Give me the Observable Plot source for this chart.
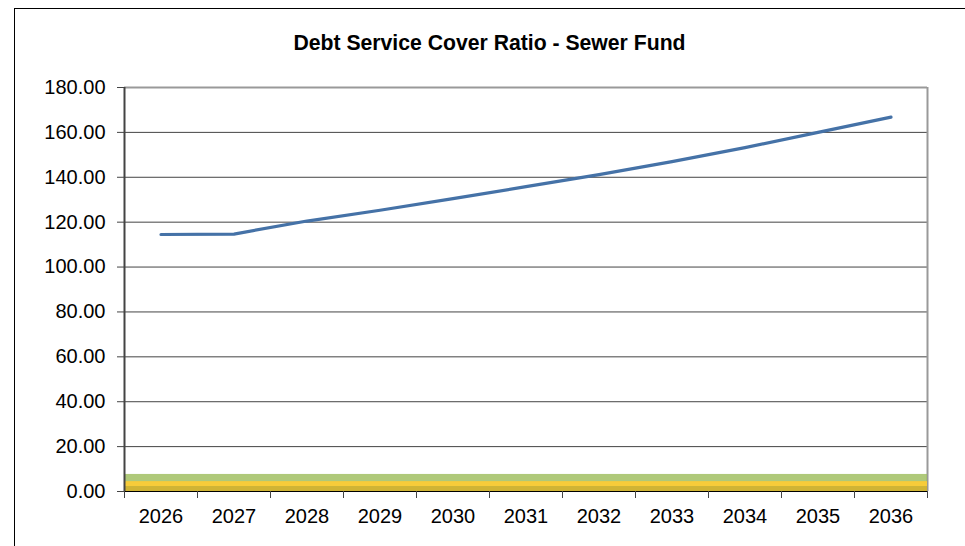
<!DOCTYPE html>
<html>
<head>
<meta charset="utf-8">
<script src="https://cdn.jsdelivr.net/npm/d3@7"></script>
<script src="https://cdn.jsdelivr.net/npm/@observablehq/plot@0.6"></script>
<style>
  html, body { margin: 0; padding: 0; background: #fff; }
  #wrap { position: relative; width: 965px; height: 546px; overflow: hidden; font-family: "Liberation Sans", Arial, sans-serif; }
  #frame { position: absolute; left: 14px; top: 8px; width: 1000px; height: 600px; border: 1px solid #000; box-sizing: border-box; }
  #title { position: absolute; left: 0; width: 979px; top: 31px; text-align: center; font-weight: bold; font-size: 21.2px; line-height: 24px; color: #000; }
  #chart { position: absolute; left: 0; top: 0; }
</style>
</head>
<body>
<div id="wrap">
  <div id="frame"></div>
  <div id="title">Debt Service Cover Ratio - Sewer Fund</div>
  <div id="chart"></div>
</div>
<script>
const years = [2026, 2027, 2028, 2029, 2030, 2031, 2032, 2033, 2034, 2035, 2036];
const dscr = [114.5, 114.7, 120.5, 125.3, 130.5, 135.8, 141.2, 147.0, 153.2, 160.0, 166.8];
const yTicks = [0, 20, 40, 60, 80, 100, 120, 140, 160, 180];
const bands = [
  {name: "green", lo: 0, hi: 7.6, fill: "#9bbb59", opacity: 0.8},
  {name: "yellow", lo: 2.2, hi: 4.4, fill: "#ffcc33", opacity: 0.9},
  {name: "olive", lo: 0, hi: 2.2, fill: "#d4b12c", opacity: 0.9}
];

const data = years.map((y, i) => ({year: y, value: dscr[i]}));
const boundaries = years.map(y => y - 0.5).concat([years[years.length - 1] + 0.5]);
const xDomain = [years[0] - 0.5, years[years.length - 1] + 0.5];

const chart = Plot.plot({
  width: 965,
  height: 546,
  marginLeft: 124,
  marginTop: 87,
  marginRight: 38,
  marginBottom: 55,
  style: {fontFamily: "Liberation Sans, Arial, sans-serif", fontSize: "20px", color: "#000", background: "transparent"},
  x: {type: "linear", domain: xDomain},
  y: {domain: [0, 180]},
  marks: [
    Plot.ruleY(yTicks.filter(t => t > 0 && t < 180), {stroke: "#444", strokeWidth: 1, strokeOpacity: 1}),
    Plot.ruleY([180], {stroke: "#999", strokeWidth: 2}),
    Plot.ruleX([xDomain[1]], {stroke: "#999", strokeWidth: 2}),
    Plot.rectY(bands, {x1: xDomain[0], x2: xDomain[1], y1: "lo", y2: "hi", fill: "fill", fillOpacity: "opacity"}),
    Plot.ruleY([0], {stroke: "#000", strokeWidth: 1}),
    Plot.ruleX([xDomain[0]], {stroke: "#444", strokeWidth: 2}),
    Plot.axisY(yTicks, {tickFormat: d3.format(".2f"), tickSize: 7, tickPadding: 12, fontSize: 20, stroke: "#444"}),
    Plot.axisX(years, {tickFormat: d => String(d), tickSize: 0, tickPadding: 17, fontSize: 20, label: null}),
    Plot.axisX(boundaries, {tickFormat: () => "", tickSize: 7, stroke: "#444", label: null}),
    Plot.line(data, {x: "year", y: "value", stroke: "#4572a7", strokeWidth: 3.2})
  ]
});
document.getElementById("chart").appendChild(chart);
</script>
</body>
</html>
